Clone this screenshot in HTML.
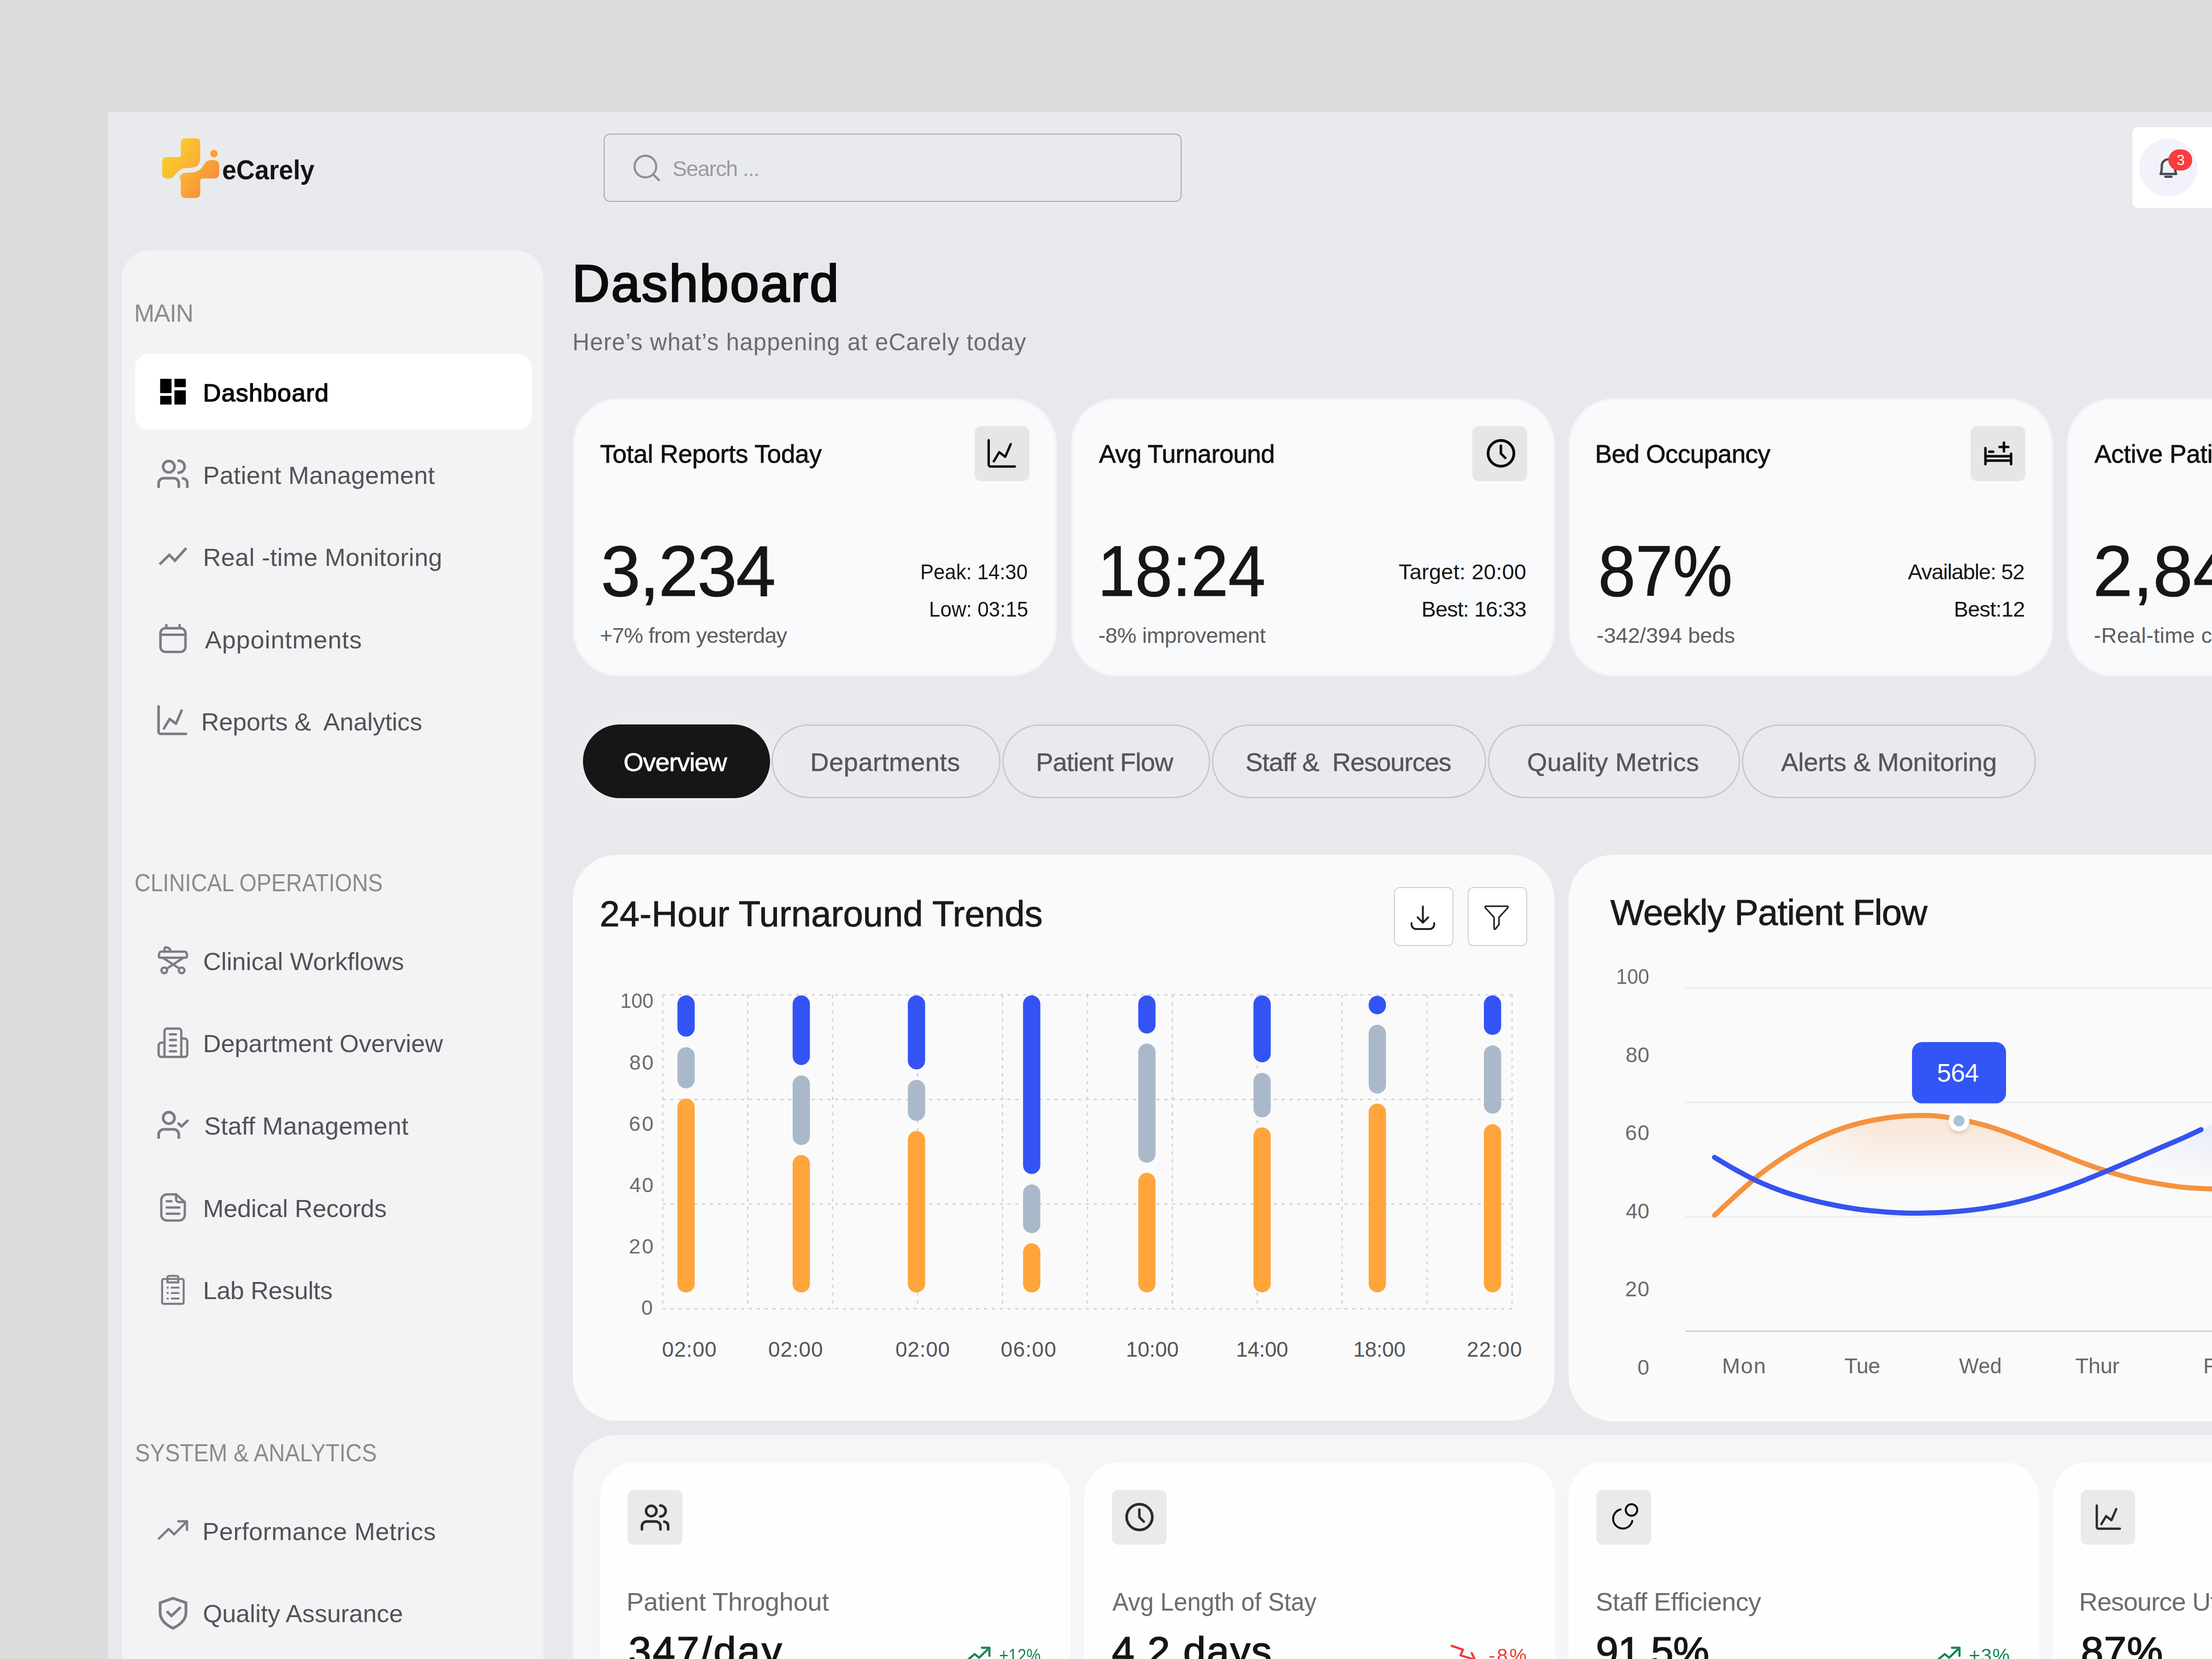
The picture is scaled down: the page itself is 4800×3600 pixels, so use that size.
<!DOCTYPE html>
<html><head><meta charset="utf-8"><title>eCarely Dashboard</title>
<style>
html,body{margin:0;padding:0;}
body{width:4800px;height:3600px;overflow:hidden;background:#dcdcdc;font-family:"Liberation Sans",sans-serif;}
#root{position:relative;width:4800px;height:3600px;overflow:hidden;}
#root>div,#root>span,#root>svg{position:absolute;display:block;}
#root>span{white-space:pre;line-height:1;}
#root>svg{overflow:visible;}

</style></head>
<body>
<div id="root">
<div style="left:234.0px;top:243.0px;width:4700.0px;height:3500.0px;background:#e8e9ed;border-radius:0px;"></div>
<div style="left:234.0px;top:243.0px;width:4700.0px;height:240.5px;background:#e9eaee;border-radius:0px;"></div>
<div style="left:263.8px;top:543.8px;width:915.2px;height:3200.0px;background:#f2f3f5;border-radius:60px;"></div>
<div style="left:293.2px;top:768.0px;width:860.8px;height:163.7px;background:#ffffff;border-radius:30px;"></div>
<div style="left:1310.1px;top:289.6px;width:1254.1px;height:148.7px;background:transparent;border-radius:14px;box-sizing:border-box;border:2.5px solid #a6a7aa;"></div>
<div style="left:4627.0px;top:276.3px;width:260.0px;height:175.0px;background:#ffffff;border-radius:12px;"></div>
<div style="left:4642.4px;top:301.1px;width:126.0px;height:126.0px;background:#f2f3fa;border-radius:63px;"></div>
<div style="left:1242.8px;top:864.4px;width:1050.6px;height:603.8px;background:#f9fafb;border-radius:100px;box-shadow:inset 0 0 0 4px rgba(236,240,243,.55);"></div>
<div style="left:2114.7px;top:924.5px;width:119.0px;height:119.0px;background:#e6e6e6;border-radius:14px;"></div>
<div style="left:2323.5px;top:864.4px;width:1050.6px;height:603.8px;background:#f9fafb;border-radius:100px;box-shadow:inset 0 0 0 4px rgba(236,240,243,.55);"></div>
<div style="left:3195.4px;top:924.5px;width:119.0px;height:119.0px;background:#e6e6e6;border-radius:14px;"></div>
<div style="left:3404.2px;top:864.4px;width:1050.6px;height:603.8px;background:#f9fafb;border-radius:100px;box-shadow:inset 0 0 0 4px rgba(236,240,243,.55);"></div>
<div style="left:4276.1px;top:924.5px;width:119.0px;height:119.0px;background:#e6e6e6;border-radius:14px;"></div>
<div style="left:4484.9px;top:864.4px;width:1050.6px;height:603.8px;background:#f9fafb;border-radius:100px;box-shadow:inset 0 0 0 4px rgba(236,240,243,.55);"></div>
<div style="left:5356.8px;top:924.5px;width:119.0px;height:119.0px;background:#e6e6e6;border-radius:14px;"></div>
<div style="left:1265.1px;top:1572.3px;width:405.8px;height:160.0px;background:#161616;border-radius:80px;box-shadow:0 0 70px 10px rgba(255,255,255,.28);"></div>
<div style="left:1673.8px;top:1572.3px;width:497.6px;height:160.0px;background:rgba(255,255,255,.06);border-radius:80px;box-sizing:border-box;border:3px solid #c8c9cd;"></div>
<div style="left:2175.0px;top:1572.3px;width:451.4px;height:160.0px;background:rgba(255,255,255,.06);border-radius:80px;box-sizing:border-box;border:3px solid #c8c9cd;"></div>
<div style="left:2630.0px;top:1572.3px;width:595.0px;height:160.0px;background:rgba(255,255,255,.06);border-radius:80px;box-sizing:border-box;border:3px solid #c8c9cd;"></div>
<div style="left:3228.6px;top:1572.3px;width:547.9px;height:160.0px;background:rgba(255,255,255,.06);border-radius:80px;box-sizing:border-box;border:3px solid #c8c9cd;"></div>
<div style="left:3780.0px;top:1572.3px;width:637.5px;height:160.0px;background:rgba(255,255,255,.06);border-radius:80px;box-sizing:border-box;border:3px solid #c8c9cd;"></div>
<div style="left:1243.0px;top:1855.2px;width:2130.2px;height:1228.3px;background:#fafafa;border-radius:96px;"></div>
<div style="left:3404.0px;top:1855.0px;width:1500.0px;height:1228.5px;background:#fafafa;border-radius:96px;"></div>
<div style="left:3025.0px;top:1924.6px;width:128.7px;height:128.6px;background:#ffffff;border-radius:12px;box-sizing:border-box;border:2.5px solid #cfcfcf;"></div>
<div style="left:3185.2px;top:1924.6px;width:128.7px;height:128.6px;background:#ffffff;border-radius:12px;box-sizing:border-box;border:2.5px solid #cfcfcf;"></div>
<div style="left:1243.0px;top:3113.6px;width:3700.0px;height:700.0px;background:#f5f6f7;border-radius:96px;"></div>
<div style="left:1302.5px;top:3173.3px;width:1020.5px;height:600.0px;background:#fefefe;border-radius:76px;"></div>
<div style="left:1362.4px;top:3233.0px;width:118.8px;height:118.8px;background:#eaeaea;border-radius:14px;"></div>
<div style="left:2353.2px;top:3173.3px;width:1020.5px;height:600.0px;background:#fefefe;border-radius:76px;"></div>
<div style="left:2413.1px;top:3233.0px;width:118.8px;height:118.8px;background:#eaeaea;border-radius:14px;"></div>
<div style="left:3403.9px;top:3173.3px;width:1020.5px;height:600.0px;background:#fefefe;border-radius:76px;"></div>
<div style="left:3463.8px;top:3233.0px;width:118.8px;height:118.8px;background:#eaeaea;border-radius:14px;"></div>
<div style="left:4454.6px;top:3173.3px;width:1020.5px;height:600.0px;background:#fefefe;border-radius:76px;"></div>
<div style="left:4514.5px;top:3233.0px;width:118.8px;height:118.8px;background:#eaeaea;border-radius:14px;"></div>
<svg style="left:0;top:0" width="4800" height="3600" viewBox="0 0 4800 3600"><defs><linearGradient id="lg" gradientUnits="userSpaceOnUse" x1="352" y1="318" x2="476" y2="412"><stop offset="0" stop-color="#fbd22e"/><stop offset=".45" stop-color="#fab530"/><stop offset="1" stop-color="#f8843f"/></linearGradient></defs><path fill="url(#lg)" d="M392.4,310.8 Q392.4,299.9 403.3,299.9 L423.6,299.9 Q434.5,299.9 434.5,310.8 L434.5,340.6 Q434.5,361.4 419.6,363.2 Q409,364.6 398.8,365 Q388.8,366.9 380.7,378.6 Q374.4,387.2 367.1,387.2 L362.6,387.2 Q351.8,387.2 351.8,375.9 L351.8,352.4 Q351.8,341.1 362.6,341.1 L387,341.1 Q392.4,341.1 392.4,335.2 Z"/><path fill="url(#lg)" d="M392.4,390.4 L392.4,418.8 Q392.4,429.7 403.3,429.7 L423.6,429.7 Q434.5,429.7 434.5,418.8 L434.5,392.2 Q434.5,387.2 440.4,387.2 L464.8,387.2 Q475.6,387.2 475.6,375.9 L475.6,358.7 Q475.6,347 460.3,347 Q449.4,347 444,355.1 Q434.9,371.4 421.4,374.1 Q411,375 401.5,375 Q391.5,375.9 389.7,386.7 Z"/><circle cx="464.3" cy="333.4" r="8.1" fill="#f9a131"/><circle cx="1400.5" cy="361.4" r="23.5" fill="none" stroke="#8f9092" stroke-width="4.6"/><path d="M1417.5,378.6 L1430,391" fill="none" stroke="#8f9092" stroke-width="4.6" stroke-linecap="round" stroke-linejoin="round" /><path d="M4688.5,377.5 Q4691.2,371 4691,362 V360 A14.4,14.4 0 0 1 4719.8,360 V362 Q4719.6,371 4722.3,377.5 Z" fill="none" stroke="#4a4b4f" stroke-width="5" stroke-linecap="round" stroke-linejoin="round" /><path d="M4698.9,383.6 H4711.9" fill="none" stroke="#4a4b4f" stroke-width="5" stroke-linecap="round" stroke-linejoin="round" /><rect x="4705.3" y="324.3" width="51.8" height="45.8" rx="22.9" fill="#fb3c3c"/><rect x="347.5" y="822" width="24.7" height="31" fill="#000"/><rect x="378.5" y="822" width="24.7" height="18.1" fill="#000"/><rect x="347.5" y="859.1" width="24.7" height="18.7" fill="#000"/><rect x="378.5" y="847" width="24.7" height="30.8" fill="#000"/><g transform="translate(320.00 970.00) scale(1)"><circle cx="46.3" cy="42.7" r="12.4" fill="none" stroke="#7b7d80" stroke-width="5.8"/><path d="M67.6,29.7 A12.7,12.7 0 0 1 67.6,55.7" fill="none" stroke="#7b7d80" stroke-width="5.8" stroke-linecap="round" stroke-linejoin="round" /><path d="M24.2,86.4 V78.8 A11.2,11.2 0 0 1 35.4,67.6 H56.8 A11.2,11.2 0 0 1 68,78.8 V86.4" fill="none" stroke="#7b7d80" stroke-width="5.8" stroke-linecap="round" stroke-linejoin="round" /><path d="M77,68 Q86.4,69.5 86.4,78.9 V86.4" fill="none" stroke="#7b7d80" stroke-width="5.8" stroke-linecap="round" stroke-linejoin="round" /></g><path d="M346.4,1224.5 L367.4,1204.2 L379.7,1216.5 L404.3,1189.4" fill="none" stroke="#7b7d80" stroke-width="5.8" stroke-linecap="butt" stroke-linejoin="miter" /><rect x="348.2" y="1363.3" width="54.3" height="51.3" rx="10.8" fill="none" stroke="#7b7d80" stroke-width="5.4"/><path d="M348.2,1377.4 H402.5 M360.9,1356.4 V1363 M389.8,1356.4 V1363" fill="none" stroke="#7b7d80" stroke-width="5.4" stroke-linecap="round" stroke-linejoin="round" /><g transform="translate(344.10 1532.80) scale(1)"><path d="M0,0 V55.4 A4.4,4.4 0 0 0 4.4,59.7 H59.4" fill="none" stroke="#7b7d80" stroke-width="5.6" stroke-linecap="round" stroke-linejoin="round" /><path d="M11.7,47.8 L24,27.2 L37.7,37.7 L50,9.1" fill="none" stroke="#7b7d80" stroke-width="5.6" stroke-linecap="round" stroke-linejoin="round" /></g><path d="M350,2065.1 H400.5 Q404.5,2065.1 405.8,2071.5 Q406.8,2078.2 401.5,2078.2 H348.5 Q343.6,2078.2 345,2071.5 Q346.2,2065.1 350,2065.1 Z" fill="none" stroke="#7b7d80" stroke-width="5" stroke-linecap="round" stroke-linejoin="round" /><path d="M356.9,2065 V2059.5 Q357,2055.2 361,2055.7 Q369.2,2057 369.2,2062 V2065" fill="none" stroke="#7b7d80" stroke-width="5" stroke-linecap="round" stroke-linejoin="round" /><path d="M354.7,2079.2 L388,2101 M396.7,2079.2 L363.4,2101" fill="none" stroke="#7b7d80" stroke-width="5" stroke-linecap="round" stroke-linejoin="round" /><circle cx="356.5" cy="2105.7" r="6.1" fill="none" stroke="#7b7d80" stroke-width="5"/><circle cx="394.1" cy="2105.7" r="6.1" fill="none" stroke="#7b7d80" stroke-width="5"/><path d="M356.9,2293.6 V2238 A5.9,5.9 0 0 1 362.8,2232.1 H387.5 A5.9,5.9 0 0 1 393.4,2238 V2293.6" fill="none" stroke="#7b7d80" stroke-width="5" stroke-linecap="round" stroke-linejoin="round" /><path d="M356.9,2262.5 H350.3 A6.1,6.1 0 0 0 344.2,2268.6 V2287.5 A6.1,6.1 0 0 0 350.3,2293.6 H400.3 A6.1,6.1 0 0 0 406.4,2287.5 V2259.6 A6.1,6.1 0 0 0 400.3,2253.5 H393.4" fill="none" stroke="#7b7d80" stroke-width="5" stroke-linecap="round" stroke-linejoin="round" /><path d="M368.8,2244.4 H381.8 M368.8,2256.7 H381.8 M368.8,2269 H381.8 M368.8,2281.3 H381.8" fill="none" stroke="#7b7d80" stroke-width="5" stroke-linecap="round" stroke-linejoin="round" /><circle cx="366.3" cy="2425.9" r="12.4" fill="none" stroke="#7b7d80" stroke-width="5.8"/><path d="M344.2,2471 V2461.9 A11.2,11.2 0 0 1 355.4,2450.7 H376.8 A11.2,11.2 0 0 1 388,2461.9 V2471" fill="none" stroke="#7b7d80" stroke-width="5.8" stroke-linecap="butt" stroke-linejoin="round" /><path d="M387.6,2438.2 L393.8,2444.3 L406.8,2432" fill="none" stroke="#7b7d80" stroke-width="5.8" stroke-linecap="round" stroke-linejoin="round" /><path d="M382.2,2591.8 H362.3 A12.3,12.3 0 0 0 350,2604.1 V2636.3 A12.3,12.3 0 0 0 362.3,2648.6 H388.7 A12.3,12.3 0 0 0 401,2636.3 V2608.5 Z" fill="none" stroke="#7b7d80" stroke-width="5" stroke-linecap="round" stroke-linejoin="round" /><path d="M382.2,2591.8 V2602.7 A5.8,5.8 0 0 0 388,2608.5 H401" fill="none" stroke="#7b7d80" stroke-width="5" stroke-linecap="round" stroke-linejoin="round" /><path d="M361.6,2606.7 H372.1 M361.6,2620.2 H389.1 M361.6,2633.8 H389.1" fill="none" stroke="#7b7d80" stroke-width="5" stroke-linecap="round" stroke-linejoin="round" /><rect x="351.8" y="2775.4" width="46.7" height="53.9" rx="3" fill="none" stroke="#7b7d80" stroke-width="4.4"/><path d="M363.4,2782.7 V2771.6 A3,3 0 0 1 366.4,2768.6 H383.9 A3,3 0 0 1 386.9,2771.6 V2782.7 Z" fill="none" stroke="#7b7d80" stroke-width="4.4" stroke-linecap="round" stroke-linejoin="miter" /><rect x="361.6" y="2792.2" width="4.4" height="4" fill="#7b7d80"/><rect x="371" y="2792.2" width="18.4" height="4" fill="#7b7d80"/><rect x="361.6" y="2803.8" width="4.4" height="4" fill="#7b7d80"/><rect x="371" y="2803.8" width="18.4" height="4" fill="#7b7d80"/><rect x="361.6" y="2815.8" width="4.4" height="4" fill="#7b7d80"/><rect x="371" y="2815.8" width="18.4" height="4" fill="#7b7d80"/><path d="M345,3338.5 L365.9,3317.9 L377.9,3329.4 L405.7,3301.2" fill="none" stroke="#7b7d80" stroke-width="5" stroke-linecap="round" stroke-linejoin="round" /><path d="M386.9,3301.2 H405.7 V3320" fill="none" stroke="#7b7d80" stroke-width="5" stroke-linecap="round" stroke-linejoin="round" /><path d="M375.3,3468.2 L403.5,3478 V3499 Q403.5,3520 375.3,3533.3 Q347.5,3520 347.5,3499 V3478 Z" fill="none" stroke="#7b7d80" stroke-width="6" stroke-linecap="round" stroke-linejoin="miter" /><path d="M362,3496.4 L372.1,3506.5 L392,3487.4" fill="none" stroke="#7b7d80" stroke-width="5.8" stroke-linecap="butt" stroke-linejoin="miter" /><g transform="translate(2145.40 955.30) scale(0.955)"><path d="M0,0 V55.4 A4.4,4.4 0 0 0 4.4,59.7 H59.4" fill="none" stroke="#0b0b0b" stroke-width="5.4" stroke-linecap="round" stroke-linejoin="round" /><path d="M11.7,47.8 L24,27.2 L37.7,37.7 L50,9.1" fill="none" stroke="#0b0b0b" stroke-width="5.4" stroke-linecap="round" stroke-linejoin="round" /></g><circle cx="3257.1" cy="983.7" r="28" fill="none" stroke="#0b0b0b" stroke-width="6"/><path d="M3256.9,967.4000000000001 V984.1 L3266.4,993.6" fill="none" stroke="#0b0b0b" stroke-width="5.58" stroke-linecap="round" stroke-linejoin="round" /><path d="M4308.400000000001,972.4 V1007.2 M4364.0,984.6 V1007.2 M4308.400000000001,990.0 H4364.0 M4308.400000000001,999.5 H4364.0 M4316.6,980.3 H4325.200000000001 M4339.0,969.9 H4358.0 M4348.5,960.4 V979.4" fill="none" stroke="#0b0b0b" stroke-width="5.4" stroke-linecap="round" stroke-linejoin="round" /><path d="M1438.2,2158.8 H3281.2 M1438.2,2385.7 H3281.2 M1438.2,2612.7 H3281.2 M1438.2,2840 H3281.2 M1438.2,2158.8 V2840 M1622.5,2158.8 V2840 M1806.8,2158.8 V2840 M1991.1,2158.8 V2840 M2175.4,2158.8 V2840 M2359.7,2158.8 V2840 M2544.0,2158.8 V2840 M2728.3,2158.8 V2840 M2912.6,2158.8 V2840 M3096.9,2158.8 V2840 M3281.2,2158.8 V2840" fill="none" stroke="#d2d3d5" stroke-width="3" stroke-dasharray="7 10"/><rect x="1470" y="2160.1" width="37.5" height="89.5" rx="18.75" fill="#3453f5"/><rect x="1470" y="2272.2" width="37.5" height="89.6" rx="18.75" fill="#a9b9c9"/><rect x="1470" y="2383.9" width="37.5" height="420.9" rx="18.75" fill="#ffa53c"/><rect x="1720" y="2160.1" width="37.5" height="151.0" rx="18.75" fill="#3453f5"/><rect x="1720" y="2333.7" width="37.5" height="151.0" rx="18.75" fill="#a9b9c9"/><rect x="1720" y="2506.4" width="37.5" height="298.4" rx="18.75" fill="#ffa53c"/><rect x="1970" y="2160.1" width="37.5" height="160.5" rx="18.75" fill="#3453f5"/><rect x="1970" y="2343.2" width="37.5" height="89.1" rx="18.75" fill="#a9b9c9"/><rect x="1970" y="2454.4" width="37.5" height="350.4" rx="18.75" fill="#ffa53c"/><rect x="2220" y="2160.1" width="37.5" height="387.5" rx="18.75" fill="#3453f5"/><rect x="2220" y="2570.2" width="37.5" height="105.8" rx="18.75" fill="#a9b9c9"/><rect x="2220" y="2698.1" width="37.5" height="106.7" rx="18.75" fill="#ffa53c"/><rect x="2470" y="2160.1" width="37.5" height="82.6" rx="18.75" fill="#3453f5"/><rect x="2470" y="2264.6" width="37.5" height="258.5" rx="18.75" fill="#a9b9c9"/><rect x="2470" y="2545" width="37.5" height="259.4" rx="18.75" fill="#ffa53c"/><rect x="2720" y="2160.1" width="37.5" height="145.2" rx="18.75" fill="#3453f5"/><rect x="2720" y="2328.2" width="37.5" height="96.5" rx="18.75" fill="#a9b9c9"/><rect x="2720" y="2446.6" width="37.5" height="357.8" rx="18.75" fill="#ffa53c"/><rect x="2970" y="2161" width="37.5" height="39.9" rx="18.75" fill="#3453f5"/><rect x="2970" y="2223.8" width="37.5" height="149.2" rx="18.75" fill="#a9b9c9"/><rect x="2970" y="2394.8" width="37.5" height="409.6" rx="18.75" fill="#ffa53c"/><rect x="3220" y="2160.1" width="37.5" height="85.6" rx="18.75" fill="#3453f5"/><rect x="3220" y="2268.5" width="37.5" height="148.2" rx="18.75" fill="#a9b9c9"/><rect x="3220" y="2439.6" width="37.5" height="364.8" rx="18.75" fill="#ffa53c"/><path d="M3087.6,1966.9 V2002.2 M3076.1,1990.7 L3087.6,2002.2 L3099.1,1990.7" fill="none" stroke="#1c1c1c" stroke-width="4" stroke-linecap="round" stroke-linejoin="round" /><path d="M3063,2003 V2006 A10,10 0 0 0 3073,2016 H3102.2 A10,10 0 0 0 3112.2,2006 V2003" fill="none" stroke="#1c1c1c" stroke-width="4" stroke-linecap="round" stroke-linejoin="round" /><path d="M3224.0,1966.3999999999999 H3271.0 Q3273.7,1967.8 3271.3999999999996,1970.3999999999999 L3252.7999999999997,1990.6999999999998 V2006.1 L3244.7999999999997,2016.1 Q3242.3999999999996,2017.1999999999998 3242.1,2014.1999999999998 V1990.6999999999998 L3223.6,1970.3999999999999 Q3221.6,1967.8 3224.0,1966.3999999999999 Z" fill="none" stroke="#2a2a2a" stroke-width="3.5" stroke-linecap="round" stroke-linejoin="round" /><path d="M3658,2144 H4800 M3658,2392 H4800 M3658,2640.5 H4800" stroke="#eeeeef" stroke-width="4" fill="none"/><path d="M3658,2888.6 H4800" stroke="#cfcfd1" stroke-width="3" fill="none"/><defs><linearGradient id="og" x1="0" y1="2421" x2="0" y2="2575" gradientUnits="userSpaceOnUse"><stop offset="0" stop-color="#f5923e" stop-opacity=".2"/><stop offset="1" stop-color="#f5923e" stop-opacity="0"/></linearGradient>
<linearGradient id="om" x1="3830" y1="0" x2="4640" y2="0" gradientUnits="userSpaceOnUse"><stop offset="0" stop-color="#fff" stop-opacity="0"/><stop offset=".3" stop-color="#fff" stop-opacity="1"/><stop offset=".7" stop-color="#fff" stop-opacity="1"/><stop offset="1" stop-color="#fff" stop-opacity="0"/></linearGradient>
<mask id="omk" maskUnits="userSpaceOnUse" x="3600" y="2300" width="1300" height="400"><rect x="3600" y="2300" width="1300" height="400" fill="url(#om)"/></mask>
<linearGradient id="bg2" x1="0" y1="2445" x2="0" y2="2570" gradientUnits="userSpaceOnUse"><stop offset="0" stop-color="#3453f5" stop-opacity=".085"/><stop offset="1" stop-color="#3453f5" stop-opacity="0"/></linearGradient>
<linearGradient id="bm" x1="4600" y1="0" x2="4790" y2="0" gradientUnits="userSpaceOnUse"><stop offset="0" stop-color="#fff" stop-opacity="0"/><stop offset="1" stop-color="#fff" stop-opacity="1"/></linearGradient>
<mask id="bmk" maskUnits="userSpaceOnUse" x="4500" y="2300" width="400" height="400"><rect x="4500" y="2300" width="400" height="400" fill="url(#bm)"/></mask></defs><path d="M3720.4,2637.3 C3727.4,2630.7 3746.6,2612.3 3762.7,2597.7 C3778.8,2583.1 3798.9,2564.4 3817.0,2549.9 C3835.1,2535.4 3853.2,2522.7 3871.3,2510.9 C3889.4,2499.2 3907.4,2488.7 3925.5,2479.4 C3943.6,2470.1 3961.7,2462.0 3979.8,2455.0 C3997.9,2448.0 4015.9,2442.3 4034.0,2437.6 C4052.1,2432.9 4070.2,2429.5 4088.3,2426.8 C4106.4,2424.1 4124.4,2422.2 4142.5,2421.3 C4160.6,2420.4 4178.7,2420.0 4196.8,2421.3 C4214.9,2422.6 4232.9,2425.6 4251.0,2428.9 C4269.1,2432.2 4287.2,2436.3 4305.3,2441.4 C4323.4,2446.5 4341.4,2452.7 4359.5,2459.3 C4377.6,2465.9 4395.7,2473.8 4413.8,2481.0 C4431.9,2488.2 4449.9,2495.5 4468.0,2502.7 C4486.1,2509.9 4504.2,2517.7 4522.3,2524.4 C4540.4,2531.1 4558.4,2537.3 4576.5,2542.9 C4594.6,2548.5 4612.7,2553.8 4630.8,2558.1 C4648.9,2562.4 4666.9,2565.8 4685.0,2568.9 C4703.1,2572.0 4721.2,2574.7 4739.3,2576.5 C4757.4,2578.3 4778.4,2579.2 4793.5,2579.8 C4808.6,2580.4 4823.9,2580.0 4830.0,2580.0 L4830,2590 L3720,2590 Z" fill="url(#og)" mask="url(#omk)"/><path d="M4600,2529 L4685,2491.9 L4776,2451.4 L4800,2440.5 V2575 H4600 Z" fill="url(#bg2)" mask="url(#bmk)"/><path d="M3720.4,2637.3 C3727.4,2630.7 3746.6,2612.3 3762.7,2597.7 C3778.8,2583.1 3798.9,2564.4 3817.0,2549.9 C3835.1,2535.4 3853.2,2522.7 3871.3,2510.9 C3889.4,2499.2 3907.4,2488.7 3925.5,2479.4 C3943.6,2470.1 3961.7,2462.0 3979.8,2455.0 C3997.9,2448.0 4015.9,2442.3 4034.0,2437.6 C4052.1,2432.9 4070.2,2429.5 4088.3,2426.8 C4106.4,2424.1 4124.4,2422.2 4142.5,2421.3 C4160.6,2420.4 4178.7,2420.0 4196.8,2421.3 C4214.9,2422.6 4232.9,2425.6 4251.0,2428.9 C4269.1,2432.2 4287.2,2436.3 4305.3,2441.4 C4323.4,2446.5 4341.4,2452.7 4359.5,2459.3 C4377.6,2465.9 4395.7,2473.8 4413.8,2481.0 C4431.9,2488.2 4449.9,2495.5 4468.0,2502.7 C4486.1,2509.9 4504.2,2517.7 4522.3,2524.4 C4540.4,2531.1 4558.4,2537.3 4576.5,2542.9 C4594.6,2548.5 4612.7,2553.8 4630.8,2558.1 C4648.9,2562.4 4666.9,2565.8 4685.0,2568.9 C4703.1,2572.0 4721.2,2574.7 4739.3,2576.5 C4757.4,2578.3 4778.4,2579.2 4793.5,2579.8 C4808.6,2580.4 4823.9,2580.0 4830.0,2580.0" fill="none" stroke="#f6923f" stroke-width="11" stroke-linecap="round"/><path d="M3720.4,2511.4 C3727.4,2515.6 3746.6,2527.5 3762.7,2536.4 C3778.8,2545.3 3798.9,2556.3 3817.0,2564.6 C3835.1,2572.9 3853.2,2580.0 3871.3,2586.3 C3889.4,2592.6 3907.4,2597.7 3925.5,2602.5 C3943.6,2607.3 3961.7,2611.4 3979.8,2615.0 C3997.9,2618.6 4015.9,2621.8 4034.0,2624.2 C4052.1,2626.6 4070.2,2628.3 4088.3,2629.7 C4106.4,2631.1 4124.4,2632.1 4142.5,2632.4 C4160.6,2632.8 4178.7,2632.4 4196.8,2631.8 C4214.9,2631.2 4232.9,2630.2 4251.0,2628.6 C4269.1,2627.0 4287.2,2624.8 4305.3,2622.1 C4323.4,2619.4 4341.4,2616.2 4359.5,2612.3 C4377.6,2608.4 4395.7,2603.8 4413.8,2598.7 C4431.9,2593.5 4449.9,2587.6 4468.0,2581.4 C4486.1,2575.2 4504.2,2568.4 4522.3,2561.3 C4540.4,2554.2 4558.4,2546.7 4576.5,2539.1 C4594.6,2531.5 4612.7,2523.6 4630.8,2515.7 C4648.9,2507.8 4666.9,2499.8 4685.0,2491.9 C4703.1,2484.0 4724.1,2475.3 4739.3,2468.5 C4754.5,2461.7 4770.1,2454.1 4776.2,2451.2" fill="none" stroke="#3553f0" stroke-width="11" stroke-linecap="round"/><rect x="4149" y="2261.3" width="204" height="133" rx="22" fill="#3355f5"/><defs><filter id="ms" x="-50%" y="-50%" width="200%" height="200%"><feGaussianBlur stdDeviation="5"/></filter></defs><circle cx="4251" cy="2438" r="22" fill="#000" opacity=".13" filter="url(#ms)"/><circle cx="4251" cy="2432.2" r="22.6" fill="#fff"/><circle cx="4251" cy="2432.2" r="12" fill="#a9c1d9"/><g transform="translate(1370.98 3239.88) scale(0.913)"><circle cx="46.3" cy="42.7" r="12.4" fill="none" stroke="#2b2b2b" stroke-width="6.1"/><path d="M67.6,29.7 A12.7,12.7 0 0 1 67.6,55.7" fill="none" stroke="#2b2b2b" stroke-width="6.1" stroke-linecap="round" stroke-linejoin="round" /><path d="M24.2,86.4 V78.8 A11.2,11.2 0 0 1 35.4,67.6 H56.8 A11.2,11.2 0 0 1 68,78.8 V86.4" fill="none" stroke="#2b2b2b" stroke-width="6.1" stroke-linecap="round" stroke-linejoin="round" /><path d="M77,68 Q86.4,69.5 86.4,78.9 V86.4" fill="none" stroke="#2b2b2b" stroke-width="6.1" stroke-linecap="round" stroke-linejoin="round" /></g><circle cx="2472.6" cy="3292" r="27.9" fill="none" stroke="#2b2b2b" stroke-width="5.8"/><path d="M2472.4,3275.7 V3292.4 L2481.9,3301.9" fill="none" stroke="#2b2b2b" stroke-width="5.394" stroke-linecap="round" stroke-linejoin="round" /><path d="M3516.6000000000004,3275.3999999999996 A21,21 0 1 0 3542.0,3300.2" fill="none" stroke="#0b0b0b" stroke-width="4.2" stroke-linecap="round" stroke-linejoin="round" /><circle cx="3540.3" cy="3276.6" r="12.5" fill="none" stroke="#0b0b0b" stroke-width="4.2"/><g transform="translate(4550.00 3267.00) scale(0.843)"><path d="M0,0 V55.4 A4.4,4.4 0 0 0 4.4,59.7 H59.4" fill="none" stroke="#2b2b2b" stroke-width="5.9" stroke-linecap="round" stroke-linejoin="round" /><path d="M11.7,47.8 L24,27.2 L37.7,37.7 L50,9.1" fill="none" stroke="#2b2b2b" stroke-width="5.9" stroke-linecap="round" stroke-linejoin="round" /></g><path d="M2130.7,3575.6 H2147 V3593.2 M2147,3575.6 L2124.6,3597.3 L2115.1,3589.2 L2101.5,3600.5" fill="none" stroke="#1a8754" stroke-width="4.7" stroke-linecap="round" stroke-linejoin="round" /><path d="M4235.7,3575.6 H4252.0 V3593.2 M4252.0,3575.6 L4229.6,3597.3 L4220.1,3589.2 L4206.5,3600.5" fill="none" stroke="#1a8754" stroke-width="4.7" stroke-linecap="round" stroke-linejoin="round" /><path d="M3150.2,3571.5 L3174.6,3579.7 L3169.2,3591.9 L3200.4,3601.4 M3193.6,3587.1 L3200.4,3601.4" fill="none" stroke="#f13a37" stroke-width="4.7" stroke-linecap="round" stroke-linejoin="round" /></svg>
<span style="left:482.3px;top:339.0px;font-size:60px;color:#141414;font-weight:700;transform:scaleX(0.9242);transform-origin:0 0;">eCarely</span>
<span style="left:1459.2px;top:342.4px;font-size:47px;color:#9a9b9d;letter-spacing:-1.33px;">Search ...</span>
<span style="left:1241.5px;top:559.4px;font-size:113px;color:#0a0a0a;letter-spacing:3.20px;-webkit-text-stroke:3.4px #0a0a0a;">Dashboard</span>
<span style="left:1242.3px;top:716.5px;font-size:51px;color:#6b6c6e;letter-spacing:1.08px;">Here’s what’s happening at eCarely today</span>
<span style="left:290.9px;top:653.1px;font-size:53px;color:#8a8b8d;letter-spacing:-1.11px;">MAIN</span>
<span style="left:440.5px;top:825.0px;font-size:54px;color:#0a0a0a;letter-spacing:1.05px;-webkit-text-stroke:1.6px #0a0a0a;">Dashboard</span>
<span style="left:440.5px;top:1003.6px;font-size:54px;color:#525356;letter-spacing:0.28px;">Patient Management</span>
<span style="left:440.5px;top:1182.2px;font-size:54px;color:#525356;letter-spacing:0.29px;">Real -time Monitoring</span>
<span style="left:444.7px;top:1360.8px;font-size:54px;color:#525356;letter-spacing:0.92px;">Appointments</span>
<span style="left:436.4px;top:1539.4px;font-size:54px;color:#525356;letter-spacing:-0.18px;">Reports &amp;  Analytics</span>
<span style="left:292.4px;top:1888.7px;font-size:53px;color:#8a8b8d;transform:scaleX(0.9053);transform-origin:0 0;">CLINICAL OPERATIONS</span>
<span style="left:440.8px;top:2058.8px;font-size:54px;color:#525356;letter-spacing:-0.07px;">Clinical Workflows</span>
<span style="left:440.5px;top:2237.4px;font-size:54px;color:#525356;letter-spacing:-0.08px;">Department Overview</span>
<span style="left:443.0px;top:2416.0px;font-size:54px;color:#525356;letter-spacing:0.19px;">Staff Management</span>
<span style="left:440.5px;top:2594.6px;font-size:54px;color:#525356;letter-spacing:-0.25px;">Medical Records</span>
<span style="left:440.5px;top:2773.2px;font-size:54px;color:#525356;letter-spacing:-0.40px;">Lab Results</span>
<span style="left:293.1px;top:3126.3px;font-size:53px;color:#8a8b8d;transform:scaleX(0.9200);transform-origin:0 0;">SYSTEM &amp; ANALYTICS</span>
<span style="left:439.2px;top:3295.8px;font-size:54px;color:#525356;letter-spacing:0.47px;">Performance Metrics</span>
<span style="left:440.2px;top:3474.4px;font-size:54px;color:#525356;letter-spacing:-0.06px;">Quality Assurance</span>
<span style="left:1302.1px;top:957.8px;font-size:55px;color:#111111;letter-spacing:-0.22px;-webkit-text-stroke:0.8px #111111;">Total Reports Today</span>
<span style="left:2384.7px;top:957.8px;font-size:55px;color:#111111;letter-spacing:-0.65px;-webkit-text-stroke:0.8px #111111;">Avg Turnaround</span>
<span style="left:3461.2px;top:957.8px;font-size:55px;color:#111111;letter-spacing:-0.65px;-webkit-text-stroke:0.8px #111111;">Bed Occupancy</span>
<span style="left:4545.0px;top:957.8px;font-size:55px;color:#111111;letter-spacing:-0.31px;-webkit-text-stroke:0.8px #111111;">Active Patients</span>
<span style="left:1303.7px;top:1161.6px;font-size:155px;color:#161616;letter-spacing:-2.02px;-webkit-text-stroke:1.2px #161616;">3,234</span>
<span style="left:2382.1px;top:1161.6px;font-size:155px;color:#161616;transform:scaleX(0.9393);transform-origin:0 0;-webkit-text-stroke:1.2px #161616;">18:24</span>
<span style="left:3467.5px;top:1161.6px;font-size:155px;color:#161616;transform:scaleX(0.9393);transform-origin:0 0;-webkit-text-stroke:1.2px #161616;">87%</span>
<span style="left:4541.7px;top:1161.6px;font-size:155px;color:#161616;letter-spacing:0.54px;-webkit-text-stroke:1.2px #161616;">2,847</span>
<span style="left:1997.3px;top:1216.8px;font-size:47px;color:#161616;transform:scaleX(0.9284);transform-origin:0 0;">Peak: 14:30</span>
<span style="left:2016.3px;top:1298.2px;font-size:47px;color:#161616;transform:scaleX(0.9359);transform-origin:0 0;">Low: 03:15</span>
<span style="left:3035.0px;top:1216.8px;font-size:47px;color:#161616;letter-spacing:0.22px;">Target: 20:00</span>
<span style="left:3084.6px;top:1298.2px;font-size:47px;color:#161616;letter-spacing:-0.97px;">Best: 16:33</span>
<span style="left:4139.9px;top:1216.8px;font-size:47px;color:#161616;letter-spacing:-1.21px;">Available: 52</span>
<span style="left:4239.7px;top:1298.2px;font-size:47px;color:#161616;letter-spacing:-0.78px;">Best:12</span>
<span style="left:1301.8px;top:1354.6px;font-size:47px;color:#5c5d5f;letter-spacing:-0.75px;">+7% from yesterday</span>
<span style="left:2383.2px;top:1354.6px;font-size:47px;color:#5c5d5f;letter-spacing:-0.36px;">-8% improvement</span>
<span style="left:3464.5px;top:1354.6px;font-size:47px;color:#5c5d5f;">-342/394 beds</span>
<span style="left:4543.5px;top:1354.6px;font-size:47px;color:#5c5d5f;letter-spacing:0.29px;">-Real-time count</span>
<span style="left:1352.9px;top:1626.2px;font-size:56px;color:#ffffff;letter-spacing:-1.23px;-webkit-text-stroke:0.8px #ffffff;">Overview</span>
<span style="left:1758.3px;top:1626.2px;font-size:56px;color:#55565a;letter-spacing:0.45px;-webkit-text-stroke:0.5px #55565a;">Departments</span>
<span style="left:2248.0px;top:1626.2px;font-size:56px;color:#55565a;letter-spacing:-0.91px;-webkit-text-stroke:0.5px #55565a;">Patient Flow</span>
<span style="left:2702.8px;top:1626.2px;font-size:56px;color:#55565a;letter-spacing:-1.11px;-webkit-text-stroke:0.5px #55565a;">Staff &amp;  Resources</span>
<span style="left:3313.7px;top:1626.2px;font-size:56px;color:#55565a;letter-spacing:0.21px;-webkit-text-stroke:0.5px #55565a;">Quality Metrics</span>
<span style="left:3865.0px;top:1626.2px;font-size:56px;color:#55565a;letter-spacing:-0.28px;-webkit-text-stroke:0.5px #55565a;">Alerts &amp; Monitoring</span>
<span style="left:1301.2px;top:1943.8px;font-size:78px;color:#1a1a1a;letter-spacing:-0.05px;-webkit-text-stroke:1px #1a1a1a;">24-Hour Turnaround Trends</span>
<span style="left:3494.4px;top:1941.3px;font-size:78px;color:#1a1a1a;letter-spacing:-0.96px;-webkit-text-stroke:1px #1a1a1a;">Weekly Patient Flow</span>
<span style="left:1346.0px;top:2148.7px;font-size:45px;color:#6a6b6d;transform:scaleX(0.9600);transform-origin:0 0;">100</span>
<span style="left:1365.4px;top:2282.5px;font-size:45px;color:#6a6b6d;letter-spacing:2.67px;">80</span>
<span style="left:1364.7px;top:2415.7px;font-size:45px;color:#6a6b6d;letter-spacing:3.38px;">60</span>
<span style="left:1366.1px;top:2548.5px;font-size:45px;color:#6a6b6d;letter-spacing:1.97px;">40</span>
<span style="left:1364.7px;top:2681.7px;font-size:45px;color:#6a6b6d;letter-spacing:3.38px;">20</span>
<span style="left:1391.6px;top:2814.7px;font-size:45px;color:#6a6b6d;">0</span>
<span style="left:1436.6px;top:2904.7px;font-size:46px;color:#555658;letter-spacing:0.79px;">02:00</span>
<span style="left:1667.1px;top:2904.7px;font-size:46px;color:#555658;letter-spacing:0.82px;">02:00</span>
<span style="left:1942.9px;top:2904.7px;font-size:46px;color:#555658;letter-spacing:0.79px;">02:00</span>
<span style="left:2171.6px;top:2904.7px;font-size:46px;color:#555658;letter-spacing:1.27px;">06:00</span>
<span style="left:2443.3px;top:2904.7px;font-size:46px;color:#555658;letter-spacing:-0.17px;">10:00</span>
<span style="left:2682.0px;top:2904.7px;font-size:46px;color:#555658;letter-spacing:-0.42px;">14:00</span>
<span style="left:2936.6px;top:2904.7px;font-size:46px;color:#555658;letter-spacing:-0.42px;">18:00</span>
<span style="left:3183.0px;top:2904.7px;font-size:46px;color:#555658;letter-spacing:1.12px;">22:00</span>
<span style="left:3507.3px;top:2095.5px;font-size:46px;color:#6a6b6d;transform:scaleX(0.9350);transform-origin:0 0;">100</span>
<span style="left:3527.4px;top:2265.5px;font-size:46px;color:#6a6b6d;letter-spacing:0.62px;">80</span>
<span style="left:3526.6px;top:2434.8px;font-size:46px;color:#6a6b6d;letter-spacing:1.34px;">60</span>
<span style="left:3528.1px;top:2604.9px;font-size:46px;color:#6a6b6d;letter-spacing:-0.10px;">40</span>
<span style="left:3526.6px;top:2774.1px;font-size:46px;color:#6a6b6d;letter-spacing:1.34px;">20</span>
<span style="left:3553.3px;top:2944.2px;font-size:46px;color:#6a6b6d;">0</span>
<span style="left:3736.7px;top:2939.7px;font-size:47px;color:#666769;letter-spacing:1.74px;">Mon</span>
<span style="left:4002.3px;top:2939.7px;font-size:47px;color:#666769;letter-spacing:-0.70px;">Tue</span>
<span style="left:4250.6px;top:2939.7px;font-size:47px;color:#666769;transform:scaleX(0.9683);transform-origin:0 0;">Wed</span>
<span style="left:4503.3px;top:2939.7px;font-size:47px;color:#666769;letter-spacing:-0.26px;">Thur</span>
<span style="left:4781.1px;top:2939.7px;font-size:47px;color:#666769;letter-spacing:1.00px;">Fri</span>
<span style="left:4203.1px;top:2300.2px;font-size:56px;color:#ffffff;letter-spacing:-0.94px;">564</span>
<span style="left:1359.6px;top:3447.6px;font-size:56px;color:#6b6c6e;letter-spacing:-0.30px;">Patient Throghout</span>
<span style="left:2414.1px;top:3447.6px;font-size:56px;color:#6b6c6e;transform:scaleX(0.9375);transform-origin:0 0;">Avg Length of Stay</span>
<span style="left:3462.8px;top:3447.6px;font-size:56px;color:#6b6c6e;letter-spacing:-0.62px;">Staff Efficiency</span>
<span style="left:4511.6px;top:3447.6px;font-size:56px;color:#6b6c6e;letter-spacing:-1.09px;">Resource Utilization</span>
<span style="left:1364.0px;top:3538.5px;font-size:88px;color:#151515;letter-spacing:3.25px;-webkit-text-stroke:1.7px #151515;">347/day</span>
<span style="left:2412.7px;top:3538.5px;font-size:88px;color:#151515;letter-spacing:2.01px;-webkit-text-stroke:1.7px #151515;">4.2 days</span>
<span style="left:3462.9px;top:3538.5px;font-size:88px;color:#151515;letter-spacing:-0.87px;-webkit-text-stroke:1.7px #151515;">91.5%</span>
<span style="left:4515.6px;top:3538.5px;font-size:88px;color:#151515;letter-spacing:0.92px;-webkit-text-stroke:1.7px #151515;">87%</span>
<span style="left:2168.4px;top:3571.9px;font-size:42px;color:#1a8754;transform:scaleX(0.8304);transform-origin:0 0;">+12%</span>
<span style="left:3230.3px;top:3571.9px;font-size:42px;color:#f13a37;letter-spacing:3.94px;">-8%</span>
<span style="left:4272.3px;top:3571.9px;font-size:42px;color:#1a8754;letter-spacing:1.69px;">+3%</span>
<span style="left:4723.6px;top:332.3px;font-size:31px;color:#ffffff;">3</span>
</div>
</body></html>
